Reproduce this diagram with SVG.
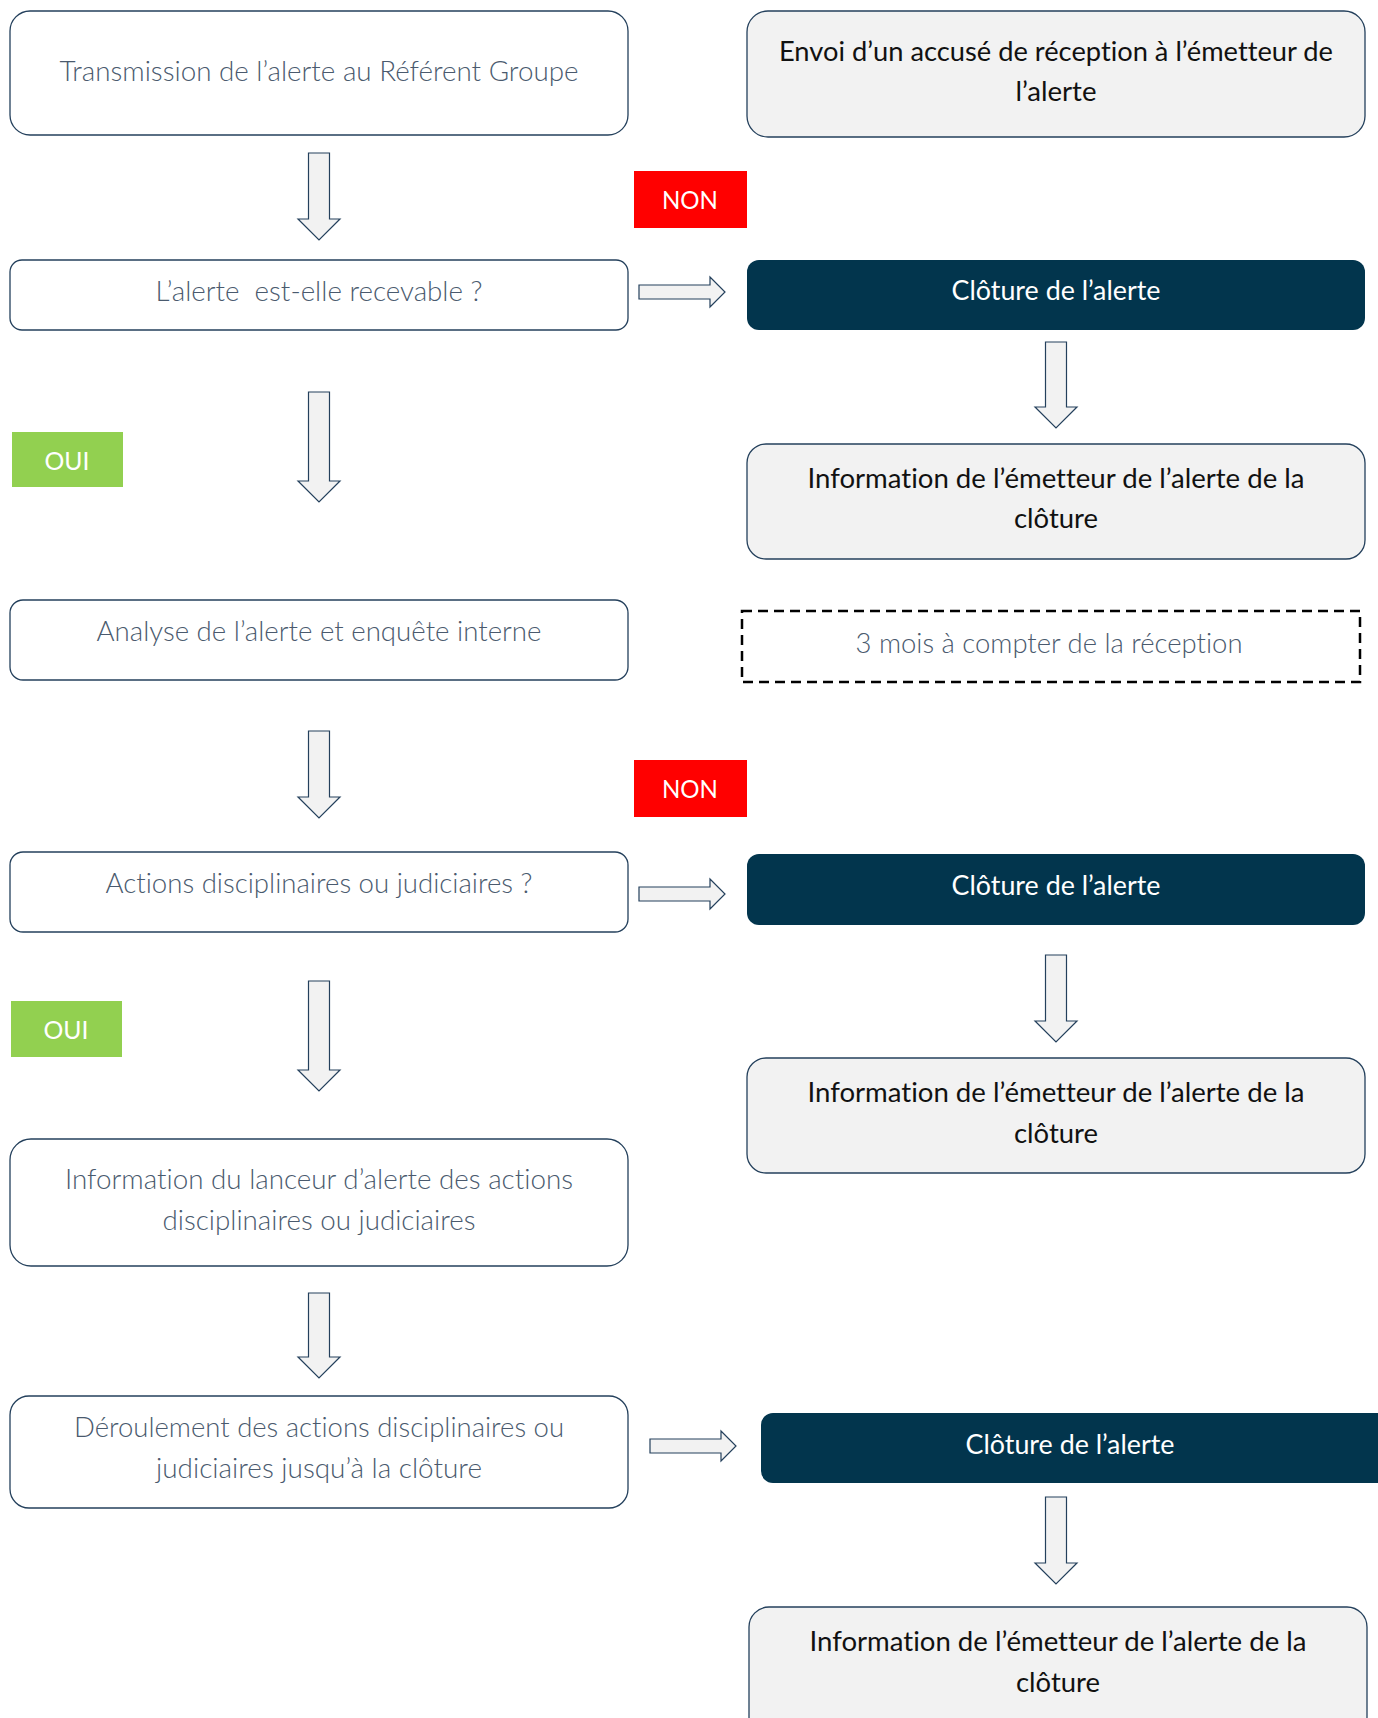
<svg xmlns="http://www.w3.org/2000/svg" width="1378" height="1718" viewBox="0 0 1378 1718">
<style>
  .box { fill: #ffffff; stroke: #24405c; stroke-width: 1.3; }
  .gbox { fill: #f2f2f2; stroke: #24405c; stroke-width: 1.3; }
  .dbox { fill: #02354d; stroke: none; }
  .dash { fill: none; stroke: #000000; stroke-width: 2.5; stroke-dasharray: 10 6; }
  .non { fill: #ff0000; }
  .oui { fill: #92d050; }
  .arrow { fill: #f2f2f2; stroke: #24405c; stroke-width: 1.2; stroke-linejoin: miter; }
  text { font-family: Lato, "Open Sans", "Liberation Sans", sans-serif; font-size: 27px; text-anchor: middle; font-variant-ligatures: none; }
  .t1 { fill: #4a5a6e; font-weight: 300; }
  .t2 { fill: #111111; }
  .tw { fill: #ffffff; }
  .tl { fill: #ffffff; font-size: 25px; }
</style>
<rect width="1378" height="1718" fill="#ffffff"/>

<g id="connectors">
  <path class="arrow" d="M308.5 153 H329.5 V219 H340 L319 240 L298 219 H308.5 Z"/>
  <path class="arrow" d="M308.5 392 H329.5 V481 H340 L319 502 L298 481 H308.5 Z"/>
  <path class="arrow" d="M308.5 731 H329.5 V797 H340 L319 818 L298 797 H308.5 Z"/>
  <path class="arrow" d="M308.5 981 H329.5 V1070 H340 L319 1091 L298 1070 H308.5 Z"/>
  <path class="arrow" d="M308.5 1293 H329.5 V1357 H340 L319 1378 L298 1357 H308.5 Z"/>
  <path class="arrow" d="M1045.5 342 H1066.5 V407 H1077 L1056 428 L1035 407 H1045.5 Z"/>
  <path class="arrow" d="M1045.5 955 H1066.5 V1021 H1077 L1056 1042 L1035 1021 H1045.5 Z"/>
  <path class="arrow" d="M1045.5 1497 H1066.5 V1563 H1077 L1056 1584 L1035 1563 H1045.5 Z"/>
  <path class="arrow" d="M639 285 H710 V277 L725 292 L710 307 V299 H639 Z"/>
  <path class="arrow" d="M639 887 H710 V879 L725 894 L710 909 V901 H639 Z"/>
  <path class="arrow" d="M650 1439 H721 V1431 L736 1446 L721 1461 V1453 H650 Z"/>
</g>

<g id="n-transmission">
  <rect class="box" x="10" y="11" width="618" height="124" rx="20" ry="20"/>
  <text class="t1" x="319" y="81" textLength="519" lengthAdjust="spacingAndGlyphs">Transmission de l’alerte au Référent Groupe</text>
</g>
<g id="n-envoi">
  <rect class="gbox" x="747" y="11" width="618" height="126" rx="21" ry="21"/>
  <text class="t2" x="1056" y="61" textLength="554" lengthAdjust="spacingAndGlyphs">Envoi d’un accusé de réception à l’émetteur de</text>
  <text class="t2" x="1056" y="101" textLength="81" lengthAdjust="spacingAndGlyphs">l’alerte</text>
</g>
<g id="n-non1">
  <rect class="non" x="634" y="171" width="113" height="57"/>
  <text class="tl" x="690" y="209" textLength="56" lengthAdjust="spacingAndGlyphs">NON</text>
</g>
<g id="n-recevable">
  <rect class="box" x="10" y="260" width="618" height="70" rx="12" ry="12"/>
  <text class="t1" x="319" y="301" textLength="327" lengthAdjust="spacingAndGlyphs" xml:space="preserve">L’alerte  est-elle recevable ?</text>
</g>
<g id="n-cloture1">
  <rect class="dbox" x="747" y="260" width="618" height="70" rx="12" ry="12"/>
  <text class="tw" x="1056" y="300" textLength="209" lengthAdjust="spacingAndGlyphs">Clôture de l’alerte</text>
</g>
<g id="n-oui1">
  <rect class="oui" x="12" y="432" width="111" height="55"/>
  <text class="tl" x="67" y="470" textLength="45" lengthAdjust="spacingAndGlyphs">OUI</text>
</g>
<g id="n-info1">
  <rect class="gbox" x="747" y="444" width="618" height="115" rx="19" ry="19"/>
  <text class="t2" x="1056" y="488" textLength="497" lengthAdjust="spacingAndGlyphs">Information de l’émetteur de l’alerte de la</text>
  <text class="t2" x="1056" y="528" textLength="84" lengthAdjust="spacingAndGlyphs">clôture</text>
</g>
<g id="n-analyse">
  <rect class="box" x="10" y="600" width="618" height="80" rx="13" ry="13"/>
  <text class="t1" x="319" y="641" textLength="445" lengthAdjust="spacingAndGlyphs">Analyse de l’alerte et enquête interne</text>
</g>
<g id="n-delai">
  <rect class="dash" x="742" y="611" width="618" height="71"/>
  <text class="t1" x="1049" y="653" textLength="387" lengthAdjust="spacingAndGlyphs">3 mois à compter de la réception</text>
</g>
<g id="n-non2">
  <rect class="non" x="634" y="760" width="113" height="57"/>
  <text class="tl" x="690" y="798" textLength="56" lengthAdjust="spacingAndGlyphs">NON</text>
</g>
<g id="n-actions">
  <rect class="box" x="10" y="852" width="618" height="80" rx="13" ry="13"/>
  <text class="t1" x="319" y="893" textLength="427" lengthAdjust="spacingAndGlyphs">Actions disciplinaires ou judiciaires ?</text>
</g>
<g id="n-cloture2">
  <rect class="dbox" x="747" y="854" width="618" height="71" rx="12" ry="12"/>
  <text class="tw" x="1056" y="895" textLength="209" lengthAdjust="spacingAndGlyphs">Clôture de l’alerte</text>
</g>
<g id="n-oui2">
  <rect class="oui" x="11" y="1001" width="111" height="56"/>
  <text class="tl" x="66" y="1039" textLength="45" lengthAdjust="spacingAndGlyphs">OUI</text>
</g>
<g id="n-info2">
  <rect class="gbox" x="747" y="1058" width="618" height="115" rx="19" ry="19"/>
  <text class="t2" x="1056" y="1102" textLength="497" lengthAdjust="spacingAndGlyphs">Information de l’émetteur de l’alerte de la</text>
  <text class="t2" x="1056" y="1143" textLength="84" lengthAdjust="spacingAndGlyphs">clôture</text>
</g>
<g id="n-lanceur">
  <rect class="box" x="10" y="1139" width="618" height="127" rx="21" ry="21"/>
  <text class="t1" x="319" y="1189" textLength="508" lengthAdjust="spacingAndGlyphs">Information du lanceur d’alerte des actions</text>
  <text class="t1" x="319" y="1230" textLength="313" lengthAdjust="spacingAndGlyphs">disciplinaires ou judiciaires</text>
</g>
<g id="n-deroulement">
  <rect class="box" x="10" y="1396" width="618" height="112" rx="19" ry="19"/>
  <text class="t1" x="319" y="1437" textLength="490" lengthAdjust="spacingAndGlyphs">Déroulement des actions disciplinaires ou</text>
  <text class="t1" x="319" y="1478" textLength="326" lengthAdjust="spacingAndGlyphs">judiciaires jusqu’à la clôture</text>
</g>
<g id="n-cloture3">
  <rect class="dbox" x="761" y="1413" width="640" height="70" rx="12" ry="12"/>
  <text class="tw" x="1070" y="1454" textLength="209" lengthAdjust="spacingAndGlyphs">Clôture de l’alerte</text>
</g>
<g id="n-info3">
  <rect class="gbox" x="749" y="1607" width="618" height="130" rx="20" ry="20"/>
  <text class="t2" x="1058" y="1651" textLength="497" lengthAdjust="spacingAndGlyphs">Information de l’émetteur de l’alerte de la</text>
  <text class="t2" x="1058" y="1692" textLength="84" lengthAdjust="spacingAndGlyphs">clôture</text>
</g>
</svg>
